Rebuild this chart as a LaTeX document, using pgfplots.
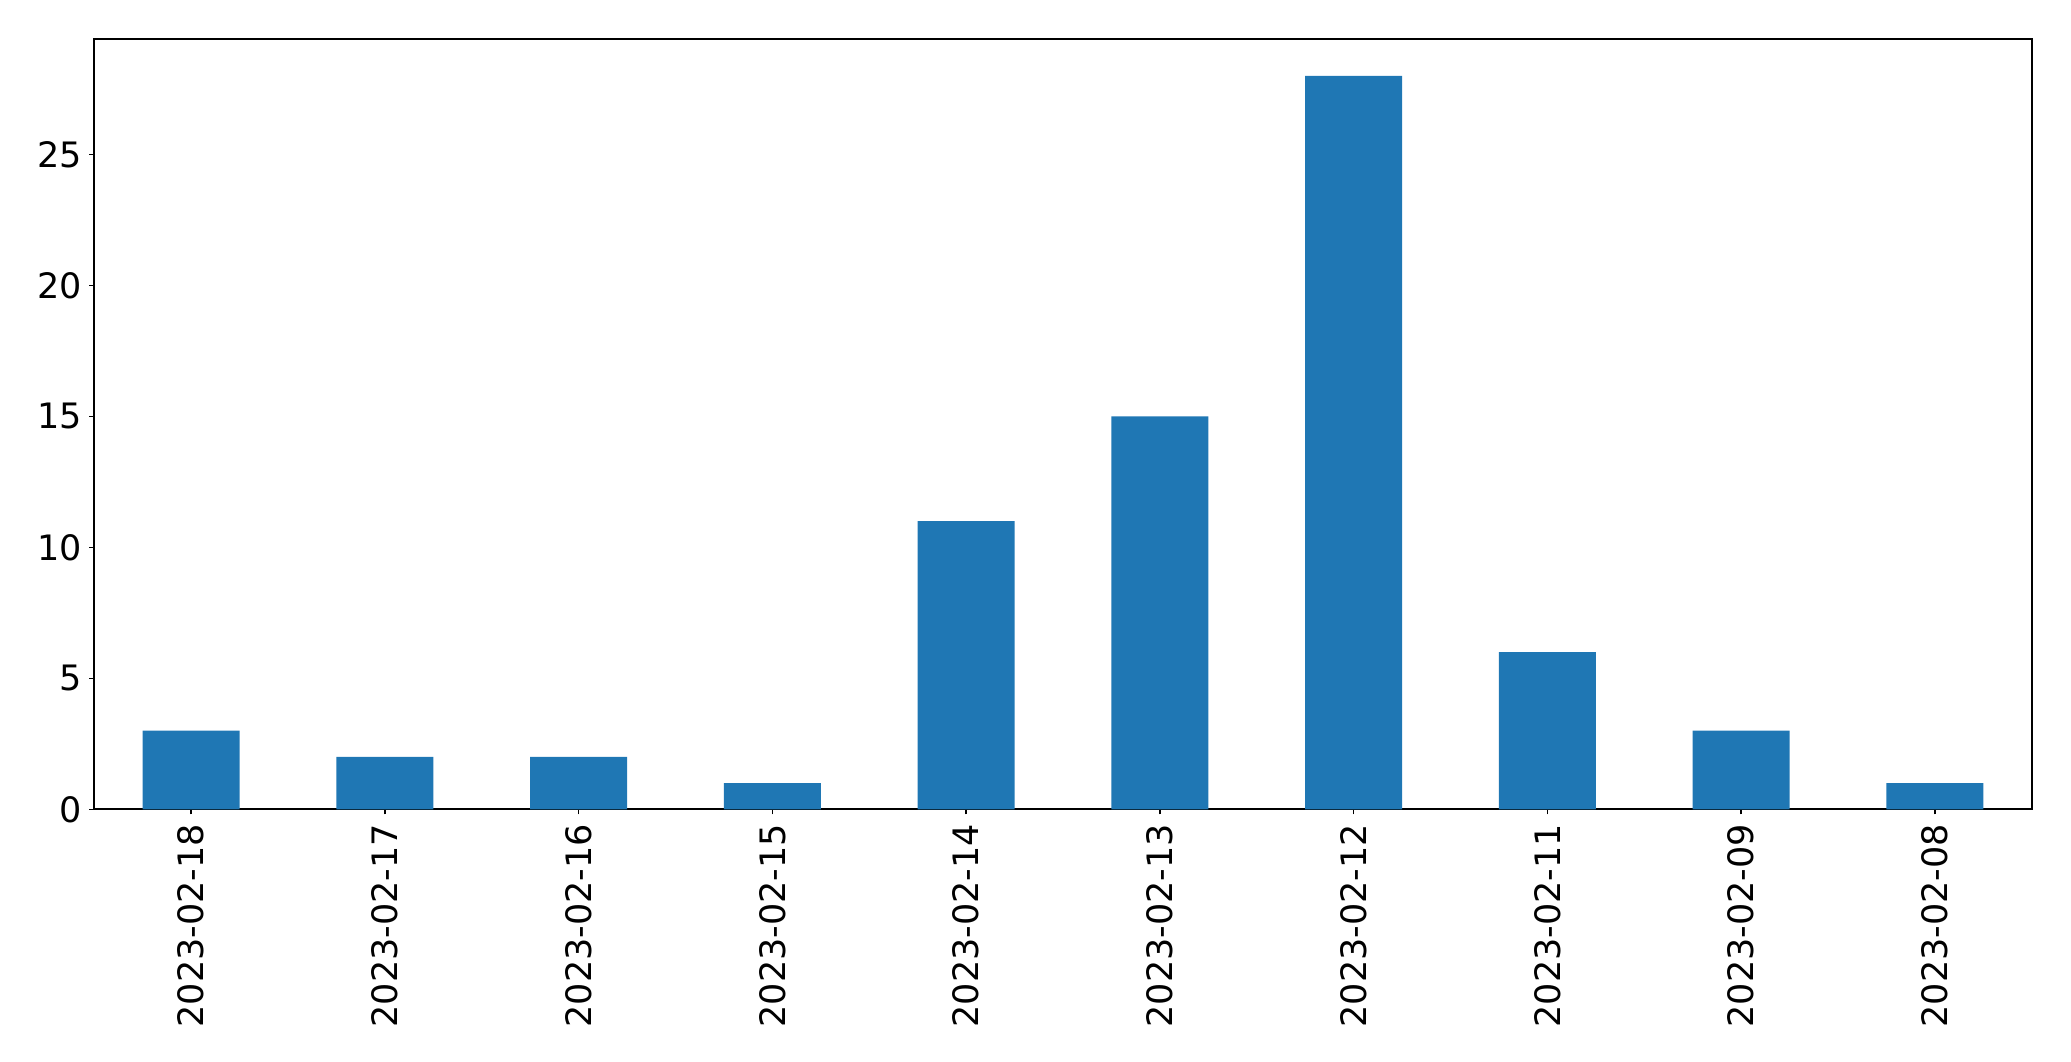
\documentclass[border=0pt]{standalone}
\usepackage{fontspec}
\setmainfont{DejaVu Sans}
\usepackage{pgfplots}
\pgfplotsset{compat=1.18}
\definecolor{mplblue}{HTML}{1F77B4}
\begin{document}
\begin{tikzpicture}
\begin{axis}[
  at={(0pt,0pt)}, anchor=south west,
  scale only axis,
  width=968.7pt, height=385pt,
  xmin=-0.5, xmax=9.5,
  ymin=0, ymax=29.4,
  xtick={0,...,9},
  xticklabels={2023-02-18,2023-02-17,2023-02-16,2023-02-15,2023-02-14,2023-02-13,2023-02-12,2023-02-11,2023-02-09,2023-02-08},
  ytick={0,5,10,15,20,25},
  tick align=outside,
  major tick length=2.5pt,
  tick style={black, line width=0.8pt},
  axis line style={line width=1pt},
  tick pos=left,
  /pgf/number format/assume math mode=true,
  tick label style={font=\fontsize{17.5}{21}\selectfont},
  xticklabel style={rotate=90, anchor=east},
  xticklabel shift=1.3pt,
  yticklabel shift=0pt,
]
\addplot[ybar, bar width=0.5, fill=mplblue, draw=none] coordinates {
 (0,3) (1,2) (2,2) (3,1) (4,11) (5,15) (6,28) (7,6) (8,3) (9,1)
};
\end{axis}
\path[use as bounding box] (-47.15pt,-125.85pt) rectangle (988.35pt,404.65pt);
\end{tikzpicture}
\end{document}
